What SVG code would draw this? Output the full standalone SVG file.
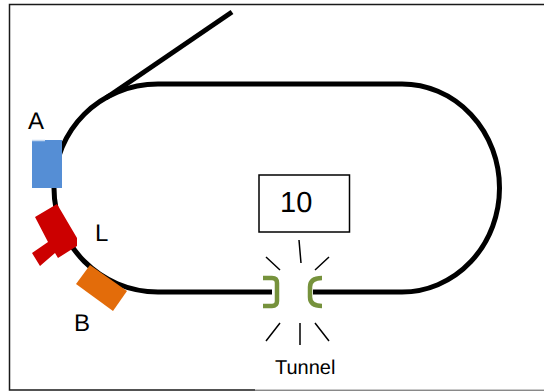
<svg xmlns="http://www.w3.org/2000/svg" width="544" height="392" viewBox="0 0 544 392">
<style>
.frame{stroke:#1a1a1a;stroke-width:1.500;fill:none}
.track{stroke:#000;stroke-width:5;fill:none}
.ray{stroke:#000;stroke-width:1.500;fill:none}
.tun{stroke:#76923c;stroke-width:4.500;fill:none}
text{font-family:"Liberation Sans",Arial,sans-serif;fill:#000;text-rendering:geometricPrecision}
</style>
<rect width="544" height="392" fill="#fff"/>
<g id="frame">
<path class="frame" d="M544 4.500H9.500V390H255"/>
<path d="M255 390.200H544" stroke="#555" stroke-width="1" fill="none"/>
</g>
<g id="connectors">
<path class="track" d="M158 84H402A97.500 104 0 0 1 402 292H313"/>
<path class="track" d="M158 84C100 84 54 130 54 188C54 245 100 292 158 292H272"/>
<path class="track" d="M232 12L106 98"/>
</g>
<g id="node-A">
<rect x="32" y="140" width="30" height="48" fill="#558ed5"/>
<path d="M32 140.500H45" stroke="#c6d9f1" stroke-width="1.500"/>
<text x="28" y="129" font-size="24">A</text>
</g>
<g id="node-L">
<path d="M35 217L57 204L77 238V246L58 258L55 253L40 266L32 253L48 242Z" fill="#cc0000"/>
<text x="95" y="241" font-size="24">L</text>
</g>
<g id="node-B">
<path d="M90 265L127 291L113 311L76 284Z" fill="#e36c0a"/>
<text x="74" y="331" font-size="24">B</text>
</g>
<g id="node-10">
<rect x="259" y="175" width="90.500" height="57" fill="#fff" stroke="#000" stroke-width="1.500"/>
<text x="280" y="212" font-size="29">10</text>
</g>
<g id="tunnel">
<path class="tun" d="M263 278H272Q277 278 277 283V301Q277 306 272 306H263"/>
<path class="tun" d="M322 278Q310 278 310 287V297Q310 306 322 306"/>
<path class="ray" d="M299 240L301 263M266 257L280 270M329 257L315 270M280 323L266 341M300 323V345M315 323L329 341"/>
<text x="275" y="374" font-size="20">Tunnel</text>
</g>
</svg>
